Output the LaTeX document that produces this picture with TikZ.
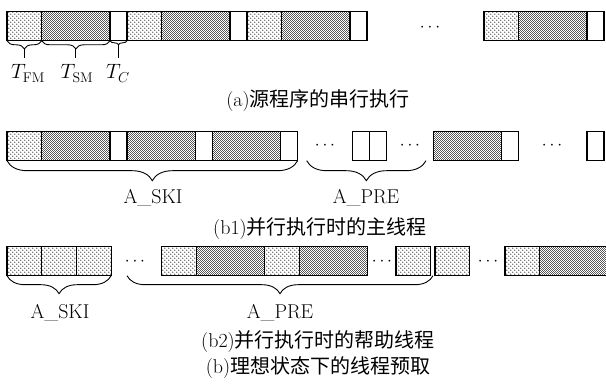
\documentclass[tikz,border=0pt]{standalone}
\usepackage{fontspec}
\newfontfamily\cjk{Noto Sans CJK SC}
\usetikzlibrary{patterns, positioning, decorations.pathreplacing}
\pgfdeclarepatternformonly{fmdots}{\pgfqpoint{-1pt}{-1pt}}{\pgfqpoint{5pt}{5pt}}{\pgfqpoint{4pt}{4pt}}{%
  \pgfpathcircle{\pgfqpoint{0.8pt}{0.8pt}}{0.6pt}
  \pgfpathcircle{\pgfqpoint{2.8pt}{2.8pt}}{0.6pt}
  \pgfusepath{fill}}
\pgfdeclarepatternformonly{smdots}{\pgfqpoint{-1pt}{-1pt}}{\pgfqpoint{3pt}{3pt}}{\pgfqpoint{2pt}{2pt}}{%
  \pgfpathcircle{\pgfqpoint{0.5pt}{0.5pt}}{0.47pt}
  \pgfpathcircle{\pgfqpoint{1.5pt}{1.5pt}}{0.47pt}
  \pgfusepath{fill}}
\tikzset{
  box/.style={draw, line width=1.2pt, inner sep=0pt, outer sep=0pt, minimum height=29pt, anchor=west},
  fmbox/.style={box, pattern=fmdots, minimum width=34.7pt},
  smbox/.style={box, pattern=smdots, minimum width=68.3pt},
  cbox/.style={box, minimum width=17pt},
  brc/.style={decorate, decoration={brace, mirror, amplitude=#1}, line width=0.9pt},
  brc/.default=20pt,
  stem/.style={line width=0.9pt},
  gap/.style={font=\fontsize{18}{20}\selectfont, inner sep=0pt, anchor=base},
}

\begin{document}
\begin{tikzpicture}[x=1pt, y=-1pt, font=\fontsize{20}{24}\selectfont]
  \useasboundingbox (0,0) rectangle (606,385);
  % (a) serial run
  \foreach \g/\x in {1/7, 2/127, 3/247, 4/484}{
    \node[fmbox] (f\g) at (\x,26.3) {};
    \node[smbox, right=0pt of f\g] (s\g) {};
    \node[cbox, right=0pt of s\g] (c\g) {};
  }
  \node[gap] (d0) at (430,32) {$\cdots$};
  \draw[brc=8pt] (f1.south west) -- (f1.south east);
  \draw[brc=8pt] (s1.south west) -- (s1.south east);
  \draw[brc=4pt] (c1.south west) -- (c1.south east);
  \draw[stem] (f1.south) ++(0,8) -- ++(0,9);
  \draw[stem] (s1.south) ++(0,8) -- ++(0,9);
  \draw[stem] (c1.south) ++(0,4) -- ++(0,13);
  \node[anchor=base] (tfm) at (28,79) {$T_{\mathrm{FM}}$};
  \node[anchor=base] (tsm) at (77,79) {$T_{\mathrm{SM}}$};
  \node[anchor=base] (tc) at (118,79) {$T_C$};
  \node[anchor=base] (capa) at (318,107) {(a){\cjk 源程序的串行执行}};

  % (b1) main thread
  \node[fmbox] (m1) at (7,146.2) {};
  \node[smbox, right=0pt of m1] (m2) {};
  \node[cbox, right=0pt of m2] (m3) {};
  \node[smbox, right=0pt of m3] (m4) {};
  \node[cbox, right=0pt of m4] (m5) {};
  \node[smbox, right=0pt of m5] (m6) {};
  \node[cbox, right=0pt of m6] (m7) {};
  \node[gap] (d1) at (325,150) {$\cdots$};
  \node[cbox] (m8) at (352.7,146.2) {};
  \node[cbox, right=0pt of m8] (m9) {};
  \node[gap] (d2) at (410,150) {$\cdots$};
  \node[smbox] (m10) at (433.3,146.2) {};
  \node[cbox, right=0pt of m10] (m11) {};
  \node[gap] (d3) at (552,150) {$\cdots$};
  \node[cbox] (m12) at (587,146.2) {};
  \coordinate (pre1a) at (306.7,160.7);
  \coordinate (pre1b) at (426,160.7);
  \draw[brc] (m1.south west) -- (m7.south east);
  \draw[brc] (pre1a) -- (pre1b);
  \node[anchor=base] (ski1) at (153,204) {A\_SKI};
  \node[anchor=base] (pre1) at (366,204) {A\_PRE};
  \node[anchor=base] (capb1) at (320,235) {(b1){\cjk 并行执行时的主线程}};

  % (b2) helper thread
  \node[fmbox] (h1) at (7,261.2) {};
  \node[fmbox, right=0pt of h1] (h2) {};
  \node[fmbox, right=0pt of h2] (h3) {};
  \node[gap] (d4) at (135,265.5) {$\cdots$};
  \node[fmbox] (h4) at (161.7,261.2) {};
  \node[smbox, right=0pt of h4] (h5) {};
  \node[fmbox, right=0pt of h5] (h6) {};
  \node[smbox, right=0pt of h6] (h7) {};
  \node[gap] (d5) at (382,265.5) {$\cdots$};
  \node[fmbox] (h8) at (396,261.2) {};
  \node[fmbox] (h9) at (435,261.2) {};
  \node[gap] (d6) at (488,265.5) {$\cdots$};
  \node[fmbox] (h10) at (505,261.2) {};
  \node[smbox, right=0pt of h10] (h11) {};
  \coordinate (pre2a) at (127,275.7);
  \coordinate (pre2b) at (433,275.7);
  \draw[brc=18pt] (h1.south west) -- (h3.south east);
  \draw[brc=18pt] (pre2a) -- (pre2b);
  \node[anchor=base] (ski2) at (60,319) {A\_SKI};
  \node[anchor=base] (pre2) at (280,319) {A\_PRE};
  \node[anchor=base] (capb2) at (318,347) {(b2){\cjk 并行执行时的帮助线程}};
  \node[anchor=base] (capb) at (318,373) {(b){\cjk 理想状态下的线程预取}};
\end{tikzpicture}
\end{document}
